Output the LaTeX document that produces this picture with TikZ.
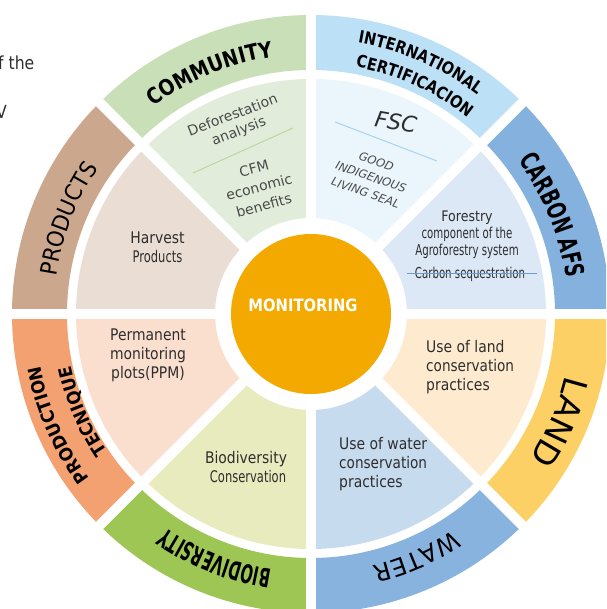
\documentclass[tikz,border=0pt]{standalone}
\usepackage{fontspec}
\usetikzlibrary{decorations.text}
\setmainfont{DejaVu Sans}
\newfontfamily\tah[FakeStretch=0.87]{DejaVu Sans}
\newfontfamily\tahn[FakeStretch=0.72]{DejaVu Sans}
\newfontfamily\fA[FakeStretch=0.85]{DejaVu Sans}
\newfontfamily\fB[FakeStretch=0.68]{DejaVu Sans}
\newfontfamily\fC[FakeStretch=0.56]{DejaVu Sans}
\newfontfamily\fD[FakeStretch=0.92]{DejaVu Sans}
\newfontfamily\fE{DejaVu Sans}
\definecolor{commO}{HTML}{C8DFB7}\definecolor{commI}{HTML}{E1ECDA}
\definecolor{certO}{HTML}{BCE0F6}\definecolor{certI}{HTML}{EAF5FC}
\definecolor{carbO}{HTML}{85B1DE}\definecolor{carbI}{HTML}{DCE8F6}
\definecolor{landO}{HTML}{FCD064}\definecolor{landI}{HTML}{FEEBCF}
\definecolor{watO}{HTML}{88B3DF}\definecolor{watI}{HTML}{C7DBEF}
\definecolor{bioO}{HTML}{9DC655}\definecolor{bioI}{HTML}{E8EBBD}
\definecolor{prtO}{HTML}{F3A171}\definecolor{prtI}{HTML}{FADFCF}
\definecolor{proO}{HTML}{CBA78E}\definecolor{proI}{HTML}{EADDD3}
\definecolor{mon}{HTML}{F4A900}
\definecolor{txt}{HTML}{2E2E2E}
\definecolor{blur}{HTML}{4A4A4A}
\definecolor{carbline}{HTML}{6B9BD1}
\definecolor{commline}{HTML}{B9D89C}
\definecolor{fscline}{HTML}{A8D4F0}
\newcommand\sect[5]{\fill[#5] (#1:#3pt) arc[start angle=#1,end angle=#2,radius=#3pt] -- (#2:#4pt) arc[start angle=#2,end angle=#1,radius=#4pt] -- cycle;}
\newcommand\ringtext[4]{\path[decorate,decoration={text along path,text align=center,text={|#3|#4}}] ({#1+22}:#2pt) arc[start angle={#1+22},end angle={#1-22},radius=#2pt];}
\newcommand\fmtComm{\fA\bfseries\fontsize{22}{22}\selectfont}
\newcommand\fmtCert{\fA\bfseries\fontsize{17}{17}\selectfont}
\newcommand\fmtCarb{\fB\bfseries\fontsize{26}{26}\selectfont}
\newcommand\fmtBio{\fC\bfseries\fontsize{26}{26}\selectfont}
\newcommand\fmtPrt{\fD\bfseries\fontsize{18}{18}\selectfont}
\newcommand\fmtPro{\fD\fontsize{23}{23}\selectfont}
\newcommand\fmtLand{\fE\fontsize{33}{33}\selectfont}
\newcommand\fmtWat{\fE\fontsize{24.5}{24.5}\selectfont}
\tikzset{
  body/.style={text=txt,inner sep=0pt,font=\tah\fontsize{16}{19}\selectfont},
  blurtxt/.style={text=blur,inner sep=0pt,align=center},
}
\begin{document}
\begin{tikzpicture}[x=1pt,y=1pt]
\useasboundingbox (0,0) rectangle (606,-609);
\clip (0,0) rectangle (606,-609);
\fill[white] (0,0) rectangle (606,-609);
\begin{scope}[shift={(311,-314)}]
  % outer ring
  \sect{45}{90}{244}{299}{certO}
  \sect{90}{135}{244}{299}{commO}
  \sect{135}{180}{244}{299}{proO}
  \sect{180}{225}{244}{299}{prtO}
  \sect{225}{270}{244}{299}{bioO}
  \sect{270}{315}{244}{299}{watO}
  \sect{315}{360}{244}{299}{landO}
  \sect{0}{45}{244}{299}{carbO}
  % inner sectors
  \sect{45}{90}{96}{235}{certI}
  \sect{90}{135}{96}{235}{commI}
  \sect{135}{180}{96}{235}{proI}
  \sect{180}{225}{96}{235}{prtI}
  \sect{225}{270}{96}{235}{bioI}
  \sect{270}{315}{96}{235}{watI}
  \sect{315}{360}{96}{235}{landI}
  \sect{0}{45}{96}{235}{carbI}
  \foreach \a in {0,45,...,315} \draw[white,line width=10pt] (0,0) -- (\a:310pt);
  \node[circle,fill=mon,minimum size=160pt,inner sep=0pt] (centre) at (0,0) {};
  \node[text=white,inner sep=0pt,font=\tah\bfseries\fontsize{17}{17}\selectfont] (montext) at (-8,9) {MONITORING};
  % ring labels
  \ringtext{112.8}{260}{\fmtComm}{COMMUNITY}
  \ringtext{66.5}{275}{\fmtCert}{INTERNATIONAL}
  \ringtext{65.6}{251}{\fmtCert}{CERTIFICACION}
  \ringtext{22.2}{257.5}{\fmtCarb}{CARBON AFS}
  \ringtext{-23.5}{262}{\fmtLand}{LAND}
  \ringtext{-66.5}{259}{\fmtWat}{WATER}
  \ringtext{-111.5}{258.5}{\fmtBio}{BIODIVERSITY}
  \ringtext{203.7}{275.5}{\fmtPrt}{PRODUCTION}
  \ringtext{203.1}{245.5}{\fmtPrt}{TECNIQUE}
  \ringtext{158.6}{257.6}{\fmtPro}{PRODUCTS}
\end{scope}
% inner texts
\node[body,align=center] (harvest) at (157.5,-247.5) {Harvest\\{\tahn Products}};
\node[body,align=center] (ppm) at (148,-355) {Permanent\\monitoring\\plots(PPM)};
\node[body,align=center] (biocons) at (246,-467) {Biodiversity\\\hspace*{4pt}{\tahn Conservation}};
\node[body,align=left,anchor=west] (landuse) at (426,-367) {Use of land\\{\fA conservation}\\practices};
\node[body,align=left,anchor=west] (wateruse) at (339,-464) {Use of water\\{\fA conservation}\\practices};
\node[body,align=center,font=\tah\fontsize{14.5}{17}\selectfont] (forestry) at (467,-235) {Forestry\\{\fB\fontsize{15}{17}\selectfont component of the}\\{\fB\fontsize{15}{17}\selectfont Agroforestry system}};
\node[body,font=\fB\fontsize{15}{17}\selectfont] (carbseq) at (470,-274) {Carbon sequestration};
\coordinate (cs1) at (407,-273);
\coordinate (cs2) at (537,-273);
\draw[carbline,line width=1pt] (cs1) -- (cs2);
% community texts
\node[blurtxt,rotate=21,font=\fE\fontsize{14}{17}\selectfont] (defo) at (236,-124) {Deforestation\\analysis};
\node[blurtxt,rotate=15,font=\fE\fontsize{14}{19}\selectfont] (cfm) at (259,-187) {CFM\\economic\\benefits};
\coordinate (cl1) at (193,-173);
\coordinate (cl2) at (293,-128);
\draw[commline,line width=1pt] (cl1) -- (cl2);
% FSC texts
\node[blurtxt,text=txt,rotate=-10,font=\fE\itshape\fontsize{22}{22}\selectfont] (fsc) at (396,-122) {FSC};
\node[blurtxt,rotate=-19,font=\fE\itshape\fontsize{11.5}{16.5}\selectfont] (seal) at (371,-177) {GOOD\\INDIGENOUS\\LIVING SEAL};
\coordinate (fl1) at (335,-122);
\coordinate (fl2) at (437,-161);
\draw[fscline,line width=1pt] (fl1) -- (fl2);
% stray page text
\node[text=txt,inner sep=0pt,anchor=west,font=\tah\fontsize{18}{18}\selectfont] (pagetext1) at (-2,-63) {f the};
\node[text=txt,inner sep=0pt,anchor=west,font=\tah\fontsize{18}{18}\selectfont] (pagetext2) at (-4,-112) {V};
\end{tikzpicture}
\end{document}
